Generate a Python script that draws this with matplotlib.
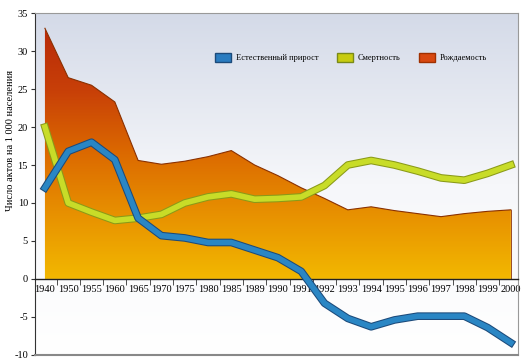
import matplotlib
matplotlib.use("Agg")
import matplotlib.pyplot as plt
import matplotlib.patheffects as pe
from matplotlib.colors import LinearSegmentedColormap
from matplotlib.patches import Patch
import numpy as np

years = ["1940", "1950", "1955", "1960", "1965", "1970", "1975", "1980", "1985", "1989",
         "1990", "1991", "1992", "1993", "1994", "1995", "1996", "1997", "1998", "1999", "2000"]
births = [33.0, 26.5, 25.5, 23.3, 15.6, 15.1, 15.5, 16.1, 16.9, 15.0,
          13.6, 12.0, 10.6, 9.1, 9.5, 9.0, 8.6, 8.2, 8.6, 8.9, 9.1]
deaths = [20.0, 10.0, 8.8, 7.7, 8.0, 8.5, 10.0, 10.8, 11.2, 10.5,
          10.6, 10.8, 12.3, 15.0, 15.6, 15.0, 14.2, 13.3, 13.0, 13.9, 15.0]
growth = [12.0, 16.8, 18.0, 15.7, 8.0, 5.7, 5.4, 4.8, 4.8, 3.8,
          2.8, 1.0, -3.2, -5.2, -6.3, -5.4, -4.9, -4.9, -4.9, -6.4, -8.4]
legend_labels = ["Естественный прирост", "Смертность", "Рождаемость"]
ylabel = "Число актов на 1 000 населения"

x = np.arange(len(years))

fig = plt.figure(figsize=(5.29, 3.64), dpi=100)
ax = fig.add_axes([0.066, 0.025, 0.913, 0.939])
xlim = (-0.43, 20.3)
ylim = (-10, 35)
ax.set_xlim(*xlim)
ax.set_ylim(*ylim)

# background gradient (grey-blue at top to white)
bg = LinearSegmentedColormap.from_list("bg", ["#ffffff", "#f6f7fa", "#d4dae8"])
grad = np.linspace(0, 1, 256).reshape(-1, 1)
ax.imshow(grad, cmap=bg, aspect="auto", extent=[xlim[0], xlim[1], ylim[0], ylim[1]],
          origin="lower", zorder=0)

# birth-rate area with vertical gradient
fill = ax.fill_between(x, 0, births, color="none", lw=0, zorder=1)
area_cmap = LinearSegmentedColormap.from_list(
    "area", ["#f2b800", "#e89200", "#dc6a00", "#c84008", "#b82a08"])
img = ax.imshow(np.linspace(0, 1, 256).reshape(-1, 1), cmap=area_cmap, aspect="auto",
                extent=[xlim[0], xlim[1], 0, 33], origin="lower", zorder=1)
img.set_clip_path(fill.get_paths()[0], transform=ax.transData)
ax.plot(x, births, color="#8a3000", lw=0.8, zorder=2)
ax.plot([x[-1], x[-1]], [0, births[-1]], color="#8a3000", lw=0.6, zorder=2)

# lines
ax.plot(x, deaths, color="#c8dc28", lw=4, zorder=3, solid_joinstyle="round",
        path_effects=[pe.Stroke(linewidth=5.5, foreground="#8a9a18"), pe.Normal()])
ax.plot(x, growth, color="#2a86c4", lw=4, zorder=4, solid_joinstyle="round",
        path_effects=[pe.Stroke(linewidth=5.5, foreground="#1c4a7a"), pe.Normal()])

# axes styling
for s in ["top", "right"]:
    ax.spines[s].set_color("#999999")
    ax.spines[s].set_linewidth(0.8)
ax.spines["left"].set_color("#333333")
ax.spines["left"].set_linewidth(0.8)
ax.spines["bottom"].set_position(("data", 0))
ax.spines["bottom"].set_color("#222222")
ax.spines["bottom"].set_linewidth(1.0)
ax.axhline(-10, color="#888888", lw=1.5, zorder=5, clip_on=False)

ax.set_xticks(x)
ax.set_xticklabels(years, family="Liberation Serif", fontsize=7.5)
ax.set_xticks(x[:-1] + 0.5, minor=True)
ax.tick_params(axis="x", which="major", length=0, pad=4)
ax.tick_params(axis="x", which="minor", length=4, direction="out", color="#333333")
ax.set_yticks(np.arange(-10, 36, 5))
ax.set_yticklabels([str(v) for v in range(-10, 36, 5)], family="Liberation Serif", fontsize=7.5)
ax.tick_params(axis="y", length=3, color="#333333", pad=2)

fig.text(0.02, 0.615, ylabel, rotation=90, ha="center", va="center",
         family="Liberation Serif", fontsize=7.5)

handles = [Patch(facecolor="#2a7cc0", edgecolor="#1c4a7a"),
           Patch(facecolor="#c8cc10", edgecolor="#7a8a18"),
           Patch(facecolor="#d84810", edgecolor="#a03000")]
ax.legend(handles, legend_labels, loc="center", bbox_to_anchor=(0.655, 0.87), ncol=3,
          frameon=False, prop={"family": "Liberation Serif", "size": 6},
          handlelength=1.9, handleheight=1.4, columnspacing=2.2, handletextpad=0.6)

fig.savefig("out.png", dpi=100)
